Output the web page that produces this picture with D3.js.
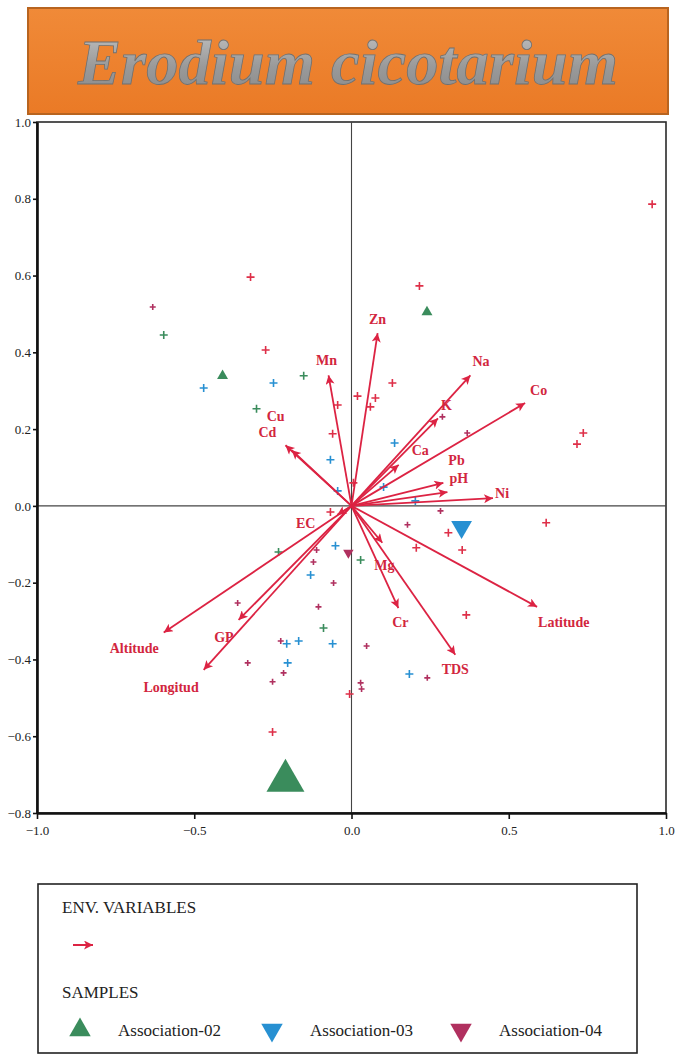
<!DOCTYPE html>
<html><head><meta charset="utf-8">
<script src="https://cdn.jsdelivr.net/npm/d3@7"></script>
<style>html,body{margin:0;padding:0;background:#fff;} svg{display:block} .serif{font-family:"Liberation Serif","Times New Roman",Times,"DejaVu Serif",serif;}</style>
</head><body>
<svg id="chart" width="675" height="1055"></svg>
<script>
// ---------------- DATA ----------------
const titleText = "Erodium cicotarium";
const xTicks = [-1.0, -0.5, 0.0, 0.5, 1.0];
const yTicks = [-0.8, -0.6, -0.4, -0.2, 0.0, 0.2, 0.4, 0.6, 0.8, 1.0];

// environmental variable arrows (biplot scores)
const envNames = ["Zn","Mn","Na","K","Ca","Co","Pb","pH","Ni","Latitude","TDS","Cr","Mg","Altitude","GP","Longitud","Cu","Cd","EC"];
const envX = [0.083,-0.073,0.378,0.275,0.150,0.552,0.292,0.305,0.450,0.590,0.330,0.149,0.098,-0.597,-0.359,-0.470,-0.190,-0.210,-0.045];
const envY = [0.450,0.340,0.340,0.228,0.107,0.268,0.060,0.036,0.020,-0.263,-0.388,-0.266,-0.096,-0.330,-0.297,-0.427,0.145,0.158,-0.023];

// sample scores (group: r = other, m = Association-04, g = Association-02, b = Association-03)
const sampleX = [-0.321,-0.632,-0.597,-0.273,-0.470,-0.248,-0.152,-0.302,-0.060,-0.067,
                  0.019, 0.076, 0.130, 0.060,-0.044, 0.137,-0.044, 0.102, 0.203, 0.289,
                  0.368,-0.067, 0.283, 0.956, 0.216, 0.737, 0.717, 0.619, 0.308, 0.352,
                  0.178, 0.206, 0.029,-0.051,-0.057, 0.365, 0.048,-0.060, 0.184, 0.241,
                  0.029, 0.032,-0.006,-0.232,-0.111,-0.121,-0.130,-0.362,-0.105,-0.089,
                 -0.225,-0.206,-0.168,-0.330,-0.203,-0.216,-0.251,-0.251, 0.006];
const sampleY = [ 0.596, 0.518, 0.445, 0.406, 0.307, 0.320, 0.339, 0.253, 0.188, 0.120,
                  0.286, 0.281, 0.320, 0.258, 0.263, 0.164, 0.039, 0.049, 0.013, 0.232,
                  0.190,-0.016,-0.013, 0.786, 0.573, 0.190, 0.161,-0.044,-0.070,-0.115,
                 -0.049,-0.109,-0.141,-0.104,-0.201,-0.284,-0.365,-0.359,-0.438,-0.448,
                 -0.461,-0.477,-0.490,-0.120,-0.115,-0.146,-0.180,-0.253,-0.263,-0.318,
                 -0.352,-0.359,-0.352,-0.409,-0.409,-0.435,-0.458,-0.589, 0.060];
const sampleGroup = ["r","m","g","r","b","b","g","g","r","b",
                     "r","r","r","r","r","b","b","b","b","m",
                     "m","r","m","r","r","r","r","r","r","r",
                     "m","r","g","b","m","r","m","b","b","m",
                     "m","m","r","g","m","m","b","m","m","g",
                     "m","b","b","m","b","m","m","r","r"];

// association centroids
const centX = [-0.410, 0.240, -0.210, 0.350, -0.010];
const centY = [ 0.339, 0.505, -0.716, -0.055, -0.122];
const centGroup = ["g","g","g","b","m"];
const centWeight = [1, 1, 12, 3.6, 0.9];

const legendNames = ["Association-02","Association-03","Association-04"];
const legendGroups = ["g","b","m"];

// ---------------- LAYOUT / STYLE ----------------
const SERIF = '"Liberation Serif","Times New Roman",Times,"DejaVu Serif",serif';
const colors = {r:"#de2f48", m:"#b0305f", g:"#3a8c5c", b:"#2790d2"};
const armLen = {r:4, m:3, g:4, b:4};
const arrowColor = "#dc2343";
const labelColor = "#d2263e";
const labelPos = { // [dx, dy, anchor]
  Zn:[0,-9,"middle"], Mn:[-2,-10,"middle"], Na:[2,-9,"start"], K:[3,-8,"start"],
  Ca:[13,-10,"start"], Co:[5,-8,"start"], Pb:[5,-18,"start"], pH:[2,-9,"start"],
  Ni:[2,0,"start"], Latitude:[1,20,"start"], TDS:[0,19,"middle"], Cr:[2,19,"middle"],
  Mg:[2,27,"middle"], Altitude:[-5,20,"end"], GP:[-5,22,"end"], Longitud:[-5,22,"end"],
  Cu:[-25,-29,"start"], Cd:[-27,-8,"start"], EC:[-22,13,"end"]
};

const svg = d3.select("#chart");
const x = d3.scaleLinear().domain([-1, 1]).range([37, 666]);
const y = d3.scaleLinear().domain([-0.8, 1.0]).range([813, 122]);
const area = d3.scaleLinear().domain([0, 1]).range([0, 52]);

// defs
const defs = svg.append("defs");
const grad = defs.append("linearGradient").attr("id","tg").attr("x1",0).attr("y1",0).attr("x2",0).attr("y2",1);
grad.append("stop").attr("offset","0%").attr("stop-color","#c4c4c4");
grad.append("stop").attr("offset","55%").attr("stop-color","#9a9a9a");
grad.append("stop").attr("offset","100%").attr("stop-color","#8a8a8a");
const og = defs.append("linearGradient").attr("id","og").attr("x1",0).attr("y1",0).attr("x2",0).attr("y2",1);
og.append("stop").attr("offset","0%").attr("stop-color","#f08a38");
og.append("stop").attr("offset","100%").attr("stop-color","#ea7a26");
defs.append("marker").attr("id","ah").attr("viewBox","0 0 10 10")
  .attr("refX",10).attr("refY",5).attr("markerWidth",13).attr("markerHeight",9)
  .attr("markerUnits","userSpaceOnUse").attr("orient","auto")
  .append("path").attr("d","M0,0 L10,5 L0,10 L2.5,5 Z").attr("fill",arrowColor);

// title box
svg.append("rect").attr("x",28).attr("y",8).attr("width",640).attr("height",106)
  .attr("fill","url(#og)").attr("stroke","#b8641f").attr("stroke-width",2);
svg.append("text").attr("x",348).attr("y",84).attr("text-anchor","middle")
  .style("font-family",SERIF).attr("font-style","italic").attr("font-weight","bold")
  .attr("font-size",64).attr("textLength",540).attr("lengthAdjust","spacingAndGlyphs")
  .attr("fill","url(#tg)").attr("stroke","#707070").attr("stroke-width",0.8)
  .text(titleText);

// plot frame
svg.append("rect").attr("x",x(-1)).attr("y",y(1)).attr("width",x(1)-x(-1)).attr("height",y(-0.8)-y(1))
  .attr("fill","none").attr("stroke","#2a2a2a").attr("stroke-width",1.6);

// zero lines
svg.append("line").attr("x1",x(0)).attr("x2",x(0)).attr("y1",y(1)).attr("y2",y(-0.8)).attr("stroke","#444").attr("stroke-width",1.1);
svg.append("line").attr("x1",x(-1)).attr("x2",x(1)).attr("y1",y(0)).attr("y2",y(0)).attr("stroke","#444").attr("stroke-width",1.1);

// axes
const fmt = d3.format(".1f");
const ya = svg.append("g").attr("transform",`translate(${x(-1)},0)`)
  .call(d3.axisLeft(y).tickValues(yTicks).tickFormat(fmt).tickSizeInner(4).tickSizeOuter(0).tickPadding(2));
const xa = svg.append("g").attr("transform",`translate(0,${y(-0.8)})`)
  .call(d3.axisBottom(x).tickValues(xTicks).tickFormat(fmt).tickSizeInner(6).tickSizeOuter(0).tickPadding(7));
[ya, xa].forEach(a => {
  a.attr("font-family", null).style("font-family", SERIF).attr("font-size", 13);
  a.select(".domain").attr("stroke","#111").attr("stroke-width",2.6);
  a.selectAll(".tick line").attr("stroke","#111").attr("stroke-width",1.6);
  a.selectAll("text").style("font-family",SERIF).attr("font-size",13).attr("fill","#222");
});

// samples (crosses)
const samples = sampleX.map((v,i)=>({x:v, y:sampleY[i], g:sampleGroup[i]}));
svg.append("g").selectAll("path").data(samples).join("path")
  .attr("d", d => {const a = armLen[d.g], px = x(d.x), py = y(d.y);
     return `M${px-a},${py}H${px+a}M${px},${py-a}V${py+a}`;})
  .attr("stroke", d => colors[d.g]).attr("stroke-width",1.6).attr("fill","none");

// centroids
const cents = centX.map((v,i)=>({x:v, y:centY[i], g:centGroup[i], w:centWeight[i]}));
svg.append("g").selectAll("path").data(cents).join("path")
  .attr("d", d => d3.symbol(d3.symbolTriangle, area(d.w))())
  .attr("transform", d => `translate(${x(d.x)},${y(d.y)}) rotate(${d.g==="g"?0:180})`)
  .attr("fill", d => colors[d.g]);

// env arrows
const env = envNames.map((n,i)=>({n, x:envX[i], y:envY[i]}));
svg.append("g").selectAll("line").data(env).join("line")
  .attr("x1", x(0)).attr("y1", y(0)).attr("x2", d => x(d.x)).attr("y2", d => y(d.y))
  .attr("stroke", arrowColor).attr("stroke-width",1.8).attr("marker-end","url(#ah)");
svg.append("g").selectAll("text").data(env).join("text")
  .attr("x", d => x(d.x) + labelPos[d.n][0]).attr("y", d => y(d.y) + labelPos[d.n][1])
  .attr("text-anchor", d => labelPos[d.n][2])
  .style("font-family",SERIF).attr("font-weight","bold").attr("font-size",14)
  .attr("fill", labelColor).text(d => d.n);

// legend
const lg = svg.append("g");
lg.append("rect").attr("x",38).attr("y",884).attr("width",599).attr("height",169)
  .attr("fill","#fff").attr("stroke","#222").attr("stroke-width",1.6);
const lf = t => t.style("font-family",SERIF).attr("font-size",17).attr("fill","#222");
lg.append("text").attr("x",62).attr("y",913).text("ENV. VARIABLES").call(lf);
lg.append("line").attr("x1",73).attr("x2",93).attr("y1",945).attr("y2",945)
  .attr("stroke",arrowColor).attr("stroke-width",2).attr("marker-end","url(#ah)");
lg.append("text").attr("x",62).attr("y",998).text("SAMPLES").call(lf);
const legX = [80, 272, 461];
legendNames.forEach((n,i) => {
  const g = legendGroups[i];
  lg.append("path").attr("d", d3.symbol(d3.symbolTriangle, 200)())
    .attr("transform", `translate(${legX[i]},1030) rotate(${g==="g"?0:180})`)
    .attr("fill", colors[g]);
  lg.append("text").attr("x", legX[i]+38).attr("y",1036).text(n).call(lf);
});
</script>
</body></html>
